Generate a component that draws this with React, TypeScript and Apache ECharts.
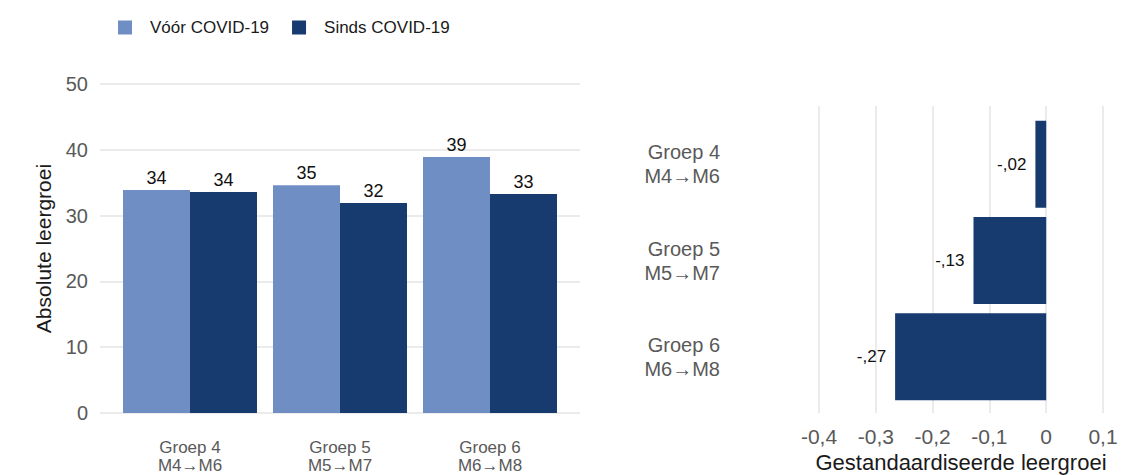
import React, { useEffect, useRef } from "react";
import * as echarts from "echarts";

const groupLabels = ["Groep 4\nM4→M6", "Groep 5\nM5→M7", "Groep 6\nM6→M8"];
const seriesNames = ["Vóór COVID-19", "Sinds COVID-19"];
const beforeValues = [33.9, 34.6, 38.9];
const sinceValues = [33.6, 31.9, 33.3];
const standardizedValues = [-0.019, -0.128, -0.266];
const leftTicks = [0, 10, 20, 30, 40, 50];
const rightTicks = [-0.4, -0.3, -0.2, -0.1, 0, 0.1];

const LIGHT = "#6f8ec3";
const DARK = "#173a6f";
const FONT = "'Liberation Sans', Arial, sans-serif";
const GRID_COLOR = "#ebebeb";
const LABEL_GREY = "#595959";

const fmtComma = (v: number) => {
  if (Math.abs(v) < 1e-9) return "0";
  return v.toFixed(1).replace(".", ",");
};
const fmtShort = (v: number) => {
  const s = v.toFixed(2);
  return s.replace("0.", ",");
};

export default function App() {
  const ref = useRef<HTMLDivElement>(null);
  useEffect(() => {
    if (!ref.current) return;
    const chart = echarts.init(ref.current, undefined, { renderer: "svg" });
    chart.setOption({
      animation: false,
      textStyle: { fontFamily: FONT },
      legend: {
        left: 113,
        top: 14,
        itemWidth: 14,
        itemHeight: 14,
        itemGap: 23,
        icon: "rect",
        data: seriesNames,
        textStyle: { fontSize: 17, color: "#1a1a1a", fontFamily: FONT, padding: [0, 0, 0, 13] },
      },
      grid: [
        { left: 100, top: 84, width: 480, height: 329, outerBoundsMode: "none", containLabel: false },
        { left: 115, top: 84, width: 450, height: 329, outerBoundsMode: "none", containLabel: false },
        { left: 819, top: 106, width: 284, height: 307, outerBoundsMode: "none", containLabel: false },
        { left: 819, top: 116, width: 284, height: 289, outerBoundsMode: "none", containLabel: false },
      ],
      xAxis: [
        { gridIndex: 0, type: "category", data: ["x"], show: false },
        {
          gridIndex: 1,
          type: "category",
          data: groupLabels,
          axisLine: { show: false },
          axisTick: { show: false },
          axisLabel: {
            margin: 25,
            fontSize: 17,
            lineHeight: 18,
            color: LABEL_GREY,
            fontFamily: FONT,
          },
        },
        {
          gridIndex: 2,
          type: "value",
          min: rightTicks[0],
          max: rightTicks[rightTicks.length - 1],
          interval: 0.1,
          axisLine: { show: false },
          axisTick: { show: false },
          splitLine: { show: true, lineStyle: { color: GRID_COLOR, width: 2 } },
          axisLabel: {
            margin: 13,
            fontSize: 21,
            color: LABEL_GREY,
            fontFamily: FONT,
            formatter: (v: number) => fmtComma(v),
          },
          name: "Gestandaardiseerde leergroei",
          nameLocation: "middle",
          nameGap: 38,
          nameTextStyle: { fontSize: 22, lineHeight: 22, color: "#1a1a1a", fontFamily: FONT },
        },
        {
          gridIndex: 3,
          type: "value",
          min: rightTicks[0],
          max: rightTicks[rightTicks.length - 1],
          interval: 0.1,
          show: false,
        },
      ],
      yAxis: [
        {
          gridIndex: 0,
          type: "value",
          min: leftTicks[0],
          max: leftTicks[leftTicks.length - 1],
          interval: 10,
          axisLine: { show: false },
          axisTick: { show: false },
          splitLine: { show: true, lineStyle: { color: GRID_COLOR, width: 2 } },
          axisLabel: { margin: 12, fontSize: 20, color: LABEL_GREY, fontFamily: FONT },
          name: "Absolute leergroei",
          nameLocation: "middle",
          nameGap: 46,
          nameTextStyle: { fontSize: 21, color: "#1a1a1a", fontFamily: FONT },
        },
        {
          gridIndex: 1,
          type: "value",
          min: leftTicks[0],
          max: leftTicks[leftTicks.length - 1],
          interval: 10,
          show: false,
        },
        { gridIndex: 2, type: "category", data: ["x"], show: false },
        {
          gridIndex: 3,
          type: "category",
          inverse: true,
          data: groupLabels,
          axisLine: { show: false },
          axisTick: { show: false },
          axisLabel: {
            margin: 99,
            fontSize: 20,
            lineHeight: 24,
            color: LABEL_GREY,
            fontFamily: FONT,
            align: "right",
          },
        },
      ],
      series: [
        {
          name: seriesNames[0],
          type: "bar",
          xAxisIndex: 1,
          yAxisIndex: 1,
          data: beforeValues,
          barWidth: 67,
          barGap: "0%",
          itemStyle: { color: LIGHT },
          label: {
            show: true,
            position: "top",
            distance: 3,
            fontSize: 18,
            color: "#111",
            fontFamily: FONT,
            formatter: (p: any) => String(Math.round(p.value)),
          },
        },
        {
          name: seriesNames[1],
          type: "bar",
          xAxisIndex: 1,
          yAxisIndex: 1,
          data: sinceValues,
          barWidth: 67,
          barGap: "0%",
          itemStyle: { color: DARK },
          label: {
            show: true,
            position: "top",
            distance: 3,
            fontSize: 18,
            color: "#111",
            fontFamily: FONT,
            formatter: (p: any) => String(Math.round(p.value)),
          },
        },
        {
          name: "Gestandaardiseerd",
          type: "bar",
          xAxisIndex: 3,
          yAxisIndex: 3,
          data: standardizedValues,
          barWidth: 87,
          itemStyle: { color: DARK },
          label: {
            show: true,
            position: "left",
            distance: 9,
            fontSize: 17,
            color: "#111",
            fontFamily: FONT,
            formatter: (p: any) => fmtShort(p.value),
          },
        },
      ],
    });
    return () => chart.dispose();
  }, []);
  return (
    <div
      ref={ref}
      style={{ position: "fixed", left: 0, top: 0, width: 1135, height: 475, background: "#fff" }}
    />
  );
}
